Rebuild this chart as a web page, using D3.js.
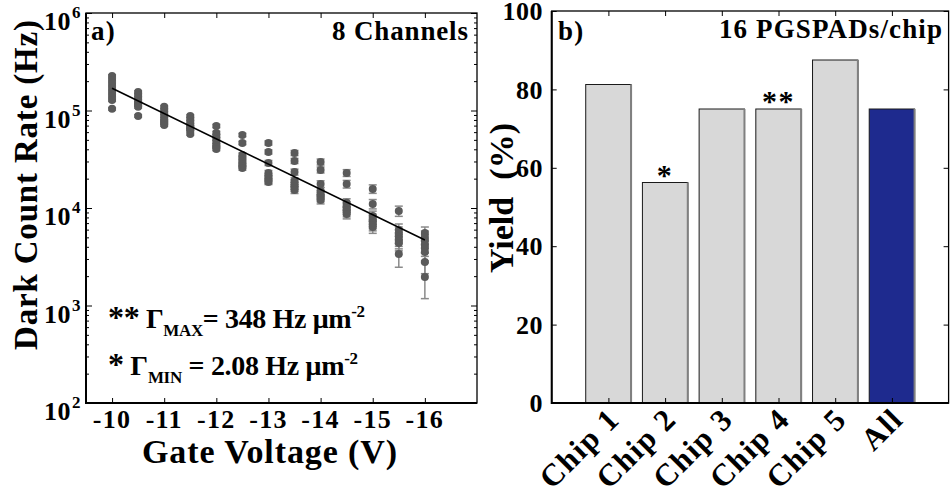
<!DOCTYPE html>
<html><head><meta charset="utf-8">
<script src="https://cdn.jsdelivr.net/npm/d3@7"></script>
<style>body{margin:0;background:#fff}text{font-family:"Liberation Serif",serif;font-weight:bold;fill:#000;letter-spacing:0.05em}.fit{letter-spacing:0}</style>
</head><body>
<script>
// ---------- Panel a data ----------
const voltages = [-10,-10.5,-11,-11.5,-12,-12.5,-13,-13.5,-14,-14.5,-15,-15.5,-16];
const dcr = [
  [2.26e5,2.06e5,1.87e5,1.70e5,1.55e5,1.41e5,1.28e5,1.04e5],
  [1.55e5,1.44e5,1.34e5,1.25e5,1.19e5,1.14e5,1.09e5,8.8e4],
  [1.09e5,1.01e5,9.44e4,8.80e4,8.19e4,7.82e4,7.45e4,7.11e4],
  [8.80e4,8.19e4,7.63e4,7.11e4,6.78e4,6.47e4,6.32e4,5.75e4],
  [6.94e4,5.89e4,5.48e4,5.11e4,4.76e4,4.43e4,4.23e4,4.03e4],
  [5.61e4,4.65e4,3.50e4,3.26e4,3.04e4,2.83e4,2.70e4,2.57e4],
  [4.65e4,3.76e4,2.90e4,2.29e4,2.13e4,2.03e4,1.89e4,1.85e4],
  [3.67e4,3.04e4,2.34e4,1.89e4,1.81e4,1.68e4,1.60e4,1.53e4],
  [2.97e4,2.46e4,1.76e4,1.49e4,1.39e4,1.33e4,1.27e4,1.21e4],
  [2.29e4,1.76e4,1.13e4,1.05e4,1.00e4,9.49e3,9.11e3,8.69e3],
  [1.57e4,1.10e4,8.29e3,7.72e3,7.37e3,7.03e3,6.70e3,6.39e3],
  [9.33e3,5.96e3,5.55e3,5.17e3,4.81e3,4.59e3,4.38e3,3.38e3],
  [5.55e3,5.05e3,4.59e3,4.18e3,3.89e3,3.54e3,2.79e3,1.96e3]
];
// relative error of each point
const dcrErr = [
  [0.03,0.03,0.03,0.03,0.03,0.03,0.03,0.03],
  [0.03,0.03,0.03,0.03,0.03,0.03,0.03,0.03],
  [0.03,0.03,0.03,0.03,0.03,0.03,0.03,0.03],
  [0.03,0.03,0.03,0.03,0.03,0.03,0.03,0.03],
  [0.04,0.04,0.04,0.04,0.04,0.04,0.04,0.04],
  [0.04,0.04,0.05,0.05,0.05,0.05,0.05,0.05],
  [0.05,0.05,0.06,0.06,0.06,0.06,0.06,0.06],
  [0.06,0.06,0.07,0.08,0.08,0.08,0.08,0.08],
  [0.07,0.07,0.08,0.09,0.09,0.09,0.09,0.09],
  [0.08,0.09,0.10,0.10,0.10,0.10,0.11,0.11],
  [0.10,0.11,0.12,0.12,0.13,0.13,0.13,0.14],
  [0.12,0.15,0.15,0.16,0.16,0.17,0.17,0.27],
  [0.15,0.15,0.16,0.17,0.18,0.19,0.24,0.40]
];
const fitV = [-10, -16];
const fitDcr = [1.69e5, 4.7e3];
const xTicksA = [-10,-11,-12,-13,-14,-15,-16];
const yDecadesA = [1e2,1e3,1e4,1e5,1e6];
const yExpA = ["2","3","4","5","6"];

// ---------- Panel b data ----------
const chips = ["Chip 1","Chip 2","Chip 3","Chip 4","Chip 5","All"];
const yieldPct = [81.25, 56.25, 75, 75, 87.5, 75];
const marks = ["", "*", "", "**", "", ""];
const yTicksB = [0,20,40,60,80,100];

const svg = d3.select("body").append("svg").attr("width",950).attr("height",497);

// ===== Panel a =====
const xa = d3.scaleLinear().domain([-9.5,-17]).range([86,477]);
const ya = d3.scaleLog().domain([1e2,1e6]).range([403,13]);
const A = svg.append("g");

const minors = [];
for (let d=2; d<6; d++) for (let m=2; m<=9; m++) minors.push(m*Math.pow(10,d));

function inwardAxis(g, axis){ g.call(axis); g.select(".domain").remove(); g.selectAll(".tick line").attr("stroke","#000").attr("stroke-width",1); g.selectAll(".tick text").remove(); }

A.append("g").attr("transform","translate(86,0)").call(g=>inwardAxis(g,d3.axisLeft(ya).tickValues(yDecadesA).tickSize(-6)));
A.append("g").attr("transform","translate(86,0)").call(g=>inwardAxis(g,d3.axisLeft(ya).tickValues(minors).tickSize(-3)));
A.append("g").attr("transform","translate(477,0)").call(g=>inwardAxis(g,d3.axisRight(ya).tickValues(yDecadesA).tickSize(-6)));
A.append("g").attr("transform","translate(477,0)").call(g=>inwardAxis(g,d3.axisRight(ya).tickValues(minors).tickSize(-3)));
A.append("g").attr("transform","translate(0,403)").call(g=>inwardAxis(g,d3.axisBottom(xa).tickValues(xTicksA).tickSize(-5)));
A.append("g").attr("transform","translate(0,13)").call(g=>inwardAxis(g,d3.axisTop(xa).tickValues(xTicksA).tickSize(-5)));

// error bars & points
const pts = [];
voltages.forEach((v,i)=>dcr[i].forEach((d,j)=>pts.push({v, d, e:dcrErr[i][j]})));
const eb = A.append("g").attr("stroke","#8a8a8a").attr("stroke-width",1.5);
pts.forEach(p=>{
  const x = xa(p.v), y1 = ya(p.d*(1+p.e)), y2 = ya(p.d*(1-p.e));
  eb.append("line").attr("x1",x).attr("x2",x).attr("y1",y1).attr("y2",y2);
  eb.append("line").attr("x1",x-4).attr("x2",x+4).attr("y1",y1).attr("y2",y1);
  eb.append("line").attr("x1",x-4).attr("x2",x+4).attr("y1",y2).attr("y2",y2);
});
A.append("g").selectAll("circle").data(pts).join("circle")
  .attr("cx",p=>xa(p.v)).attr("cy",p=>ya(p.d)).attr("r",4).attr("fill","#5a5a5a");
A.append("line").attr("x1",xa(fitV[0])).attr("y1",ya(fitDcr[0])).attr("x2",xa(fitV[1])).attr("y2",ya(fitDcr[1]))
  .attr("stroke","#000").attr("stroke-width",1.6);

// frame
A.append("rect").attr("x",86).attr("y",13).attr("width",391).attr("height",390).attr("fill","none").attr("stroke","#000").attr("stroke-width",1.3);
A.append("path").attr("d","M86,13V403H477").attr("fill","none").attr("stroke","#000").attr("stroke-width",2);

// tick labels
yDecadesA.forEach((d,i)=>{
  A.append("text").attr("x",71).attr("y",ya(d)+17).attr("text-anchor","end").style("font-size","26px").style("letter-spacing","0.02em").text("10");
  A.append("text").attr("x",72).attr("y",ya(d)+5).style("font-size","17px").text(yExpA[i]);
});
xTicksA.forEach(v=>A.append("text").attr("x",xa(v)).attr("y",428).attr("text-anchor","middle").style("font-size","26px").text(v));
A.append("text").attr("class","fit").attr("x",142).attr("y",463).attr("textLength",255).attr("lengthAdjust","spacing").style("font-size","34px").text("Gate Voltage (V)");
A.append("text").attr("class","fit").attr("transform","translate(37,350) rotate(-90)").attr("textLength",330).attr("lengthAdjust","spacing").style("font-size","33px").text("Dark Count Rate (Hz)");
A.append("text").attr("x",91).attr("y",40).style("font-size","27px").text("a)");
A.append("text").attr("class","fit").attr("x",332).attr("y",40).attr("textLength",136).attr("lengthAdjust","spacing").style("font-size","27px").text("8 Channels");

// annotations
const t1 = A.append("text").attr("class","fit").attr("x",108).attr("y",328).attr("textLength",257).attr("lengthAdjust","spacing").style("font-size","28px");
t1.append("tspan").style("font-size","32px").text("**");
t1.append("tspan").text(" Γ");
t1.append("tspan").attr("dy",8).style("font-size","17px").text("MAX");
t1.append("tspan").attr("dy",-8).text("= 348 Hz μm");
t1.append("tspan").attr("dy",-11).style("font-size","17px").text("-2");
const t2 = A.append("text").attr("class","fit").attr("x",108).attr("y",375).attr("textLength",250).attr("lengthAdjust","spacing").style("font-size","28px");
t2.append("tspan").style("font-size","32px").text("*");
t2.append("tspan").text(" Γ");
t2.append("tspan").attr("dy",8).style("font-size","17px").text("MIN");
t2.append("tspan").attr("dy",-8).text(" = 2.08 Hz μm");
t2.append("tspan").attr("dy",-11).style("font-size","17px").text("-2");

// ===== Panel b =====
const xb = d3.scalePoint().domain(chips).range([551.7,948.6]).padding(1);
const yb = d3.scaleLinear().domain([0,100]).range([403,11]);
const B = svg.append("g");
const bw = xb.step()*0.8;

B.selectAll("rect.bar").data(chips).join("rect").attr("class","bar")
  .attr("x",c=>xb(c)-bw/2).attr("y",(c,i)=>yb(yieldPct[i])).attr("width",bw).attr("height",(c,i)=>yb(0)-yb(yieldPct[i]))
  .attr("fill",(c,i)=>c==="All"?"#1e2a8e":"#d8d8d8").attr("stroke","#1a1a1a").attr("stroke-width",1);
B.selectAll("line.sh").data(chips).join("line").attr("class","sh")
  .attr("x1",c=>xb(c)+bw/2).attr("x2",c=>xb(c)+bw/2).attr("y1",(c,i)=>yb(yieldPct[i])).attr("y2",yb(0))
  .attr("stroke","#808080").attr("stroke-width",2);
B.selectAll("text.mk").data(chips).join("text").attr("class","mk")
  .attr("x",c=>xb(c)).attr("y",(c,i)=>yb(yieldPct[i])+2).attr("text-anchor","middle").style("font-size","30px").text((c,i)=>marks[i]);

B.append("g").attr("transform","translate(551.7,0)").call(g=>inwardAxis(g,d3.axisLeft(yb).tickValues(yTicksB).tickSize(-5)));
B.append("g").attr("transform","translate(948.6,0)").call(g=>inwardAxis(g,d3.axisRight(yb).tickValues(yTicksB).tickSize(-5)));
B.append("g").attr("transform","translate(0,403)").call(g=>inwardAxis(g,d3.axisBottom(xb).tickSize(-5)));
B.append("g").attr("transform","translate(0,11)").call(g=>inwardAxis(g,d3.axisTop(xb).tickSize(-5)));

B.append("rect").attr("x",551.7).attr("y",11).attr("width",396.9).attr("height",392).attr("fill","none").attr("stroke","#000").attr("stroke-width",1.3);
B.append("path").attr("d","M551.7,11V403H948.6").attr("fill","none").attr("stroke","#000").attr("stroke-width",2);

yTicksB.forEach(v=>B.append("text").attr("x",543).attr("y",yb(v)).attr("dy","0.35em").attr("text-anchor","end").style("font-size","26px").style("letter-spacing","0.02em").text(v));
chips.forEach(c=>B.append("text").attr("transform",`translate(${xb(c)+13},421) rotate(-45)`).attr("text-anchor","end").style("font-size","31px").text(c));
B.append("text").attr("class","fit").attr("transform","translate(513,273) rotate(-90)").attr("textLength",150).attr("lengthAdjust","spacing").style("font-size","34px").style("white-space","pre").text("Yield  (%)");
B.append("text").attr("x",558).attr("y",40).style("font-size","27px").text("b)");
B.append("text").attr("class","fit").attr("x",719).attr("y",38).attr("textLength",223).attr("lengthAdjust","spacing").style("font-size","27px").text("16 PGSPADs/chip");
</script>
</body></html>
